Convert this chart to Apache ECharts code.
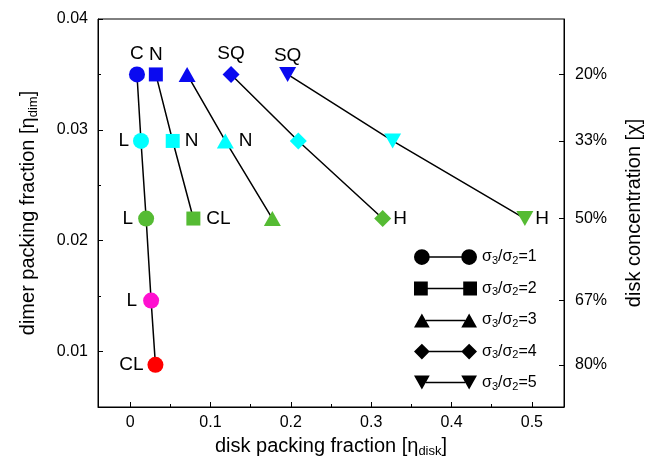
<!DOCTYPE html>
<html>
<head>
<meta charset="utf-8">
<script src="https://cdn.jsdelivr.net/npm/echarts@6/dist/echarts.min.js"></script>
<style>
html,body{margin:0;padding:0;background:#fff;}
#chart{width:652px;height:466px;}
</style>
</head>
<body>
<div id="chart"></div>
<script>
// ---- data ----
const seriesNames = ['σ3/σ2=1', 'σ3/σ2=2', 'σ3/σ2=3', 'σ3/σ2=4', 'σ3/σ2=5'];
const ratioValues = ['1', '2', '3', '4', '5'];

const disk1 = [0.0085, 0.0135, 0.0199, 0.0261, 0.0315];
const dimer1 = [0.035, 0.029, 0.022, 0.0146, 0.0088];
const phase1 = ['C', 'L', 'L', 'L', 'CL'];

const disk2 = [0.032, 0.053, 0.0787];
const dimer2 = [0.035, 0.029, 0.022];
const phase2 = ['N', 'N', 'CL'];

const disk3 = [0.0709, 0.1185, 0.177];
const dimer3 = [0.035, 0.029, 0.022];
const phase3 = ['', 'N', ''];

const disk4 = [0.1256, 0.2093, 0.3143];
const dimer4 = [0.035, 0.029, 0.022];
const phase4 = ['SQ', '', 'H'];

const disk5 = [0.196, 0.3267, 0.4913];
const dimer5 = [0.035, 0.029, 0.022];
const phase5 = ['SQ', '', 'H'];

const concentrationLevels = [0.035, 0.029, 0.022, 0.0146, 0.0088];
const concentrationLabels = ['20%', '33%', '50%', '67%', '80%'];

const yTickValues = [0.01, 0.02, 0.03, 0.04];
const yMinorValues = [0.015, 0.025, 0.035];
const xTickValues = [0, 0.1, 0.2, 0.3, 0.4, 0.5];
const xMinorValues = [0.05, 0.15, 0.25, 0.35, 0.45];

// ---- styles ----
const levelColors = ['#0a0af0', '#00ffff', '#55bb33', '#ff10d0', '#ff0000'];
const FONT = 'Liberation Sans, Arial, sans-serif';

const seriesDefs = [
  {disk: disk1, dimer: dimer1, phase: phase1, symbol: 'circle', size: 16, rotate: 0,
   sides: ['top', 'left', 'left', 'left', 'left'], dist: [3, 4, 5, 6, 4]},
  {disk: disk2, dimer: dimer2, phase: phase2, symbol: 'rect', size: 14, rotate: 0,
   sides: ['top', 'right', 'right'], dist: [3, 5, 6]},
  {disk: disk3, dimer: dimer3, phase: phase3, symbol: 'triangle', size: [17, 15], rotate: 0,
   sides: ['top', 'right', 'right'], dist: [3, 5, 5]},
  {disk: disk4, dimer: dimer4, phase: phase4, symbol: 'diamond', size: 17, rotate: 0,
   sides: ['top', 'right', 'right'], dist: [3, 5, 2]},
  {disk: disk5, dimer: dimer5, phase: phase5, symbol: 'triangle', size: [17, 15], rotate: 180,
   sides: ['top', 'right', 'right'], dist: [2, 5, 2]}
];

const legendIcons = [
  'path://M0,8A8,8 0 1,1 16,8A8,8 0 1,1 0,8Z M15,7.2L49,7.2L49,8.8L15,8.8Z M48,8A8,8 0 1,1 64,8A8,8 0 1,1 48,8Z',
  'path://M0,1L14,1L14,15L0,15Z M13,7.2L51,7.2L51,8.8L13,8.8Z M50,1L64,1L64,15L50,15Z M0,0L0,0 M64,16L64,16',
  'path://M8,1L16,15L0,15Z M12,7.2L52,7.2L52,8.8L12,8.8Z M56,1L64,15L48,15Z M0,0L0,0',
  'path://M8,0L16,8L8,16L0,8Z M15,7.2L49,7.2L49,8.8L15,8.8Z M56,0L64,8L56,16L48,8Z',
  'path://M0,1L16,1L8,15Z M12,7.2L52,7.2L52,8.8L12,8.8Z M48,1L64,1L56,15Z M0,16L0,16'
];

const series = seriesDefs.map((d, si) => ({
  name: seriesNames[si],
  type: 'line',
  xAxisIndex: 0,
  yAxisIndex: 0,
  symbol: d.symbol,
  symbolSize: d.size,
  symbolRotate: d.rotate,
  showAllSymbol: true,
  lineStyle: {color: '#000', width: 1.5},
  itemStyle: {color: '#000'},
  emphasis: {disabled: true},
  animation: false,
  z: 3,
  data: d.disk.map((x, i) => ({
    value: [x, d.dimer[i]],
    itemStyle: {color: levelColors[i], opacity: 1},
    label: {
      show: d.phase[i] !== '',
      formatter: d.phase[i],
      position: d.sides[i],
      distance: d.dist[i],
      color: '#000',
      fontSize: 19,
      fontFamily: FONT
    }
  }))
}));

const chart = echarts.init(document.getElementById('chart'));

const subRich = {
  a: {fontSize: 20, fontFamily: FONT, color: '#000', lineHeight: 24},
  s: {fontSize: 13, fontFamily: FONT, color: '#000', lineHeight: 13, verticalAlign: 'bottom'}
};

const option = {
  backgroundColor: '#fff',
  animation: false,
  grid: {left: 98, right: 88, top: 19, bottom: 59, show: true, borderColor: '#000', borderWidth: 1, backgroundColor: 'transparent'},
  legend: {
    orient: 'vertical',
    left: 409,
    top: 244,
    itemWidth: 63,
    itemHeight: 16,
    itemGap: 14.5,
    align: 'left',
    selectedMode: false,
    data: seriesNames.map((n, i) => ({name: n, icon: legendIcons[i], itemStyle: {color: '#000'}})),
    formatter: function (name) {
      const k = seriesNames.indexOf(name);
      return '{a|σ}{s|3}{a|/σ}{s|2}{a|=' + ratioValues[k] + '}';
    },
    textStyle: {
      rich: {
        a: {fontSize: 16, fontFamily: FONT, color: '#000', lineHeight: 18},
        s: {fontSize: 11, fontFamily: FONT, color: '#000', lineHeight: 10, verticalAlign: 'bottom'}
      }
    }
  },
  xAxis: [
    {
      type: 'value', position: 'bottom', min: -0.04, max: 0.54,
      splitLine: {show: false},
      axisLine: {show: true, onZero: false, lineStyle: {color: '#000', width: 1}},
      axisTick: {show: true, inside: true, length: 5, customValues: xTickValues, lineStyle: {color: '#000'}},
      axisLabel: {show: true, customValues: xTickValues, margin: 8, fontSize: 16, fontFamily: FONT, color: '#000',
        formatter: v => String(Math.round(v * 10) / 10)},
      name: '{a|disk packing fraction [η}{s|disk}{a|]}',
      nameLocation: 'middle', nameGap: 27,
      nameTextStyle: {rich: subRich}
    },
    {
      type: 'value', position: 'bottom', min: -0.04, max: 0.54,
      splitLine: {show: false},
      axisLine: {show: false, onZero: false},
      axisTick: {show: true, inside: true, length: 3, customValues: xMinorValues, lineStyle: {color: '#000'}},
      axisLabel: {show: false}
    }
  ],
  yAxis: [
    {
      type: 'value', position: 'left', min: 0.005, max: 0.04,
      splitLine: {show: false},
      axisLine: {show: true, onZero: false, lineStyle: {color: '#000', width: 1}},
      axisTick: {show: true, inside: true, length: 5, customValues: yTickValues, lineStyle: {color: '#000'}},
      axisLabel: {show: true, customValues: yTickValues, margin: 10, fontSize: 16, fontFamily: FONT, color: '#000',
        formatter: v => v.toFixed(2)},
      name: '{a|dimer packing fraction [η}{s|dim}{a|]}',
      nameLocation: 'middle', nameGap: 58, nameRotate: 90,
      nameTextStyle: {rich: subRich}
    },
    {
      type: 'value', position: 'left', min: 0.005, max: 0.04,
      splitLine: {show: false},
      axisLine: {show: false, onZero: false},
      axisTick: {show: true, inside: true, length: 3, customValues: yMinorValues, lineStyle: {color: '#000'}},
      axisLabel: {show: false}
    },
    {
      type: 'value', position: 'right', min: 0.005, max: 0.04,
      splitLine: {show: false},
      axisLine: {show: true, onZero: false, lineStyle: {color: '#000', width: 1}},
      axisTick: {show: true, inside: true, length: 5, customValues: concentrationLevels, lineStyle: {color: '#000'}},
      axisLabel: {show: true, customValues: concentrationLevels, margin: 11, fontSize: 16, fontFamily: FONT, color: '#000',
        formatter: v => {
          const k = concentrationLevels.findIndex(c => Math.abs(c - v) < 1e-6);
          return k >= 0 ? concentrationLabels[k] : '';
        }},
      name: 'disk concentration [χ]',
      nameLocation: 'middle', nameGap: 60, nameRotate: 90,
      nameTextStyle: {fontSize: 20, fontFamily: FONT, color: '#000'}
    }
  ],
  series: series
};

chart.setOption(option);
</script>
</body>
</html>
